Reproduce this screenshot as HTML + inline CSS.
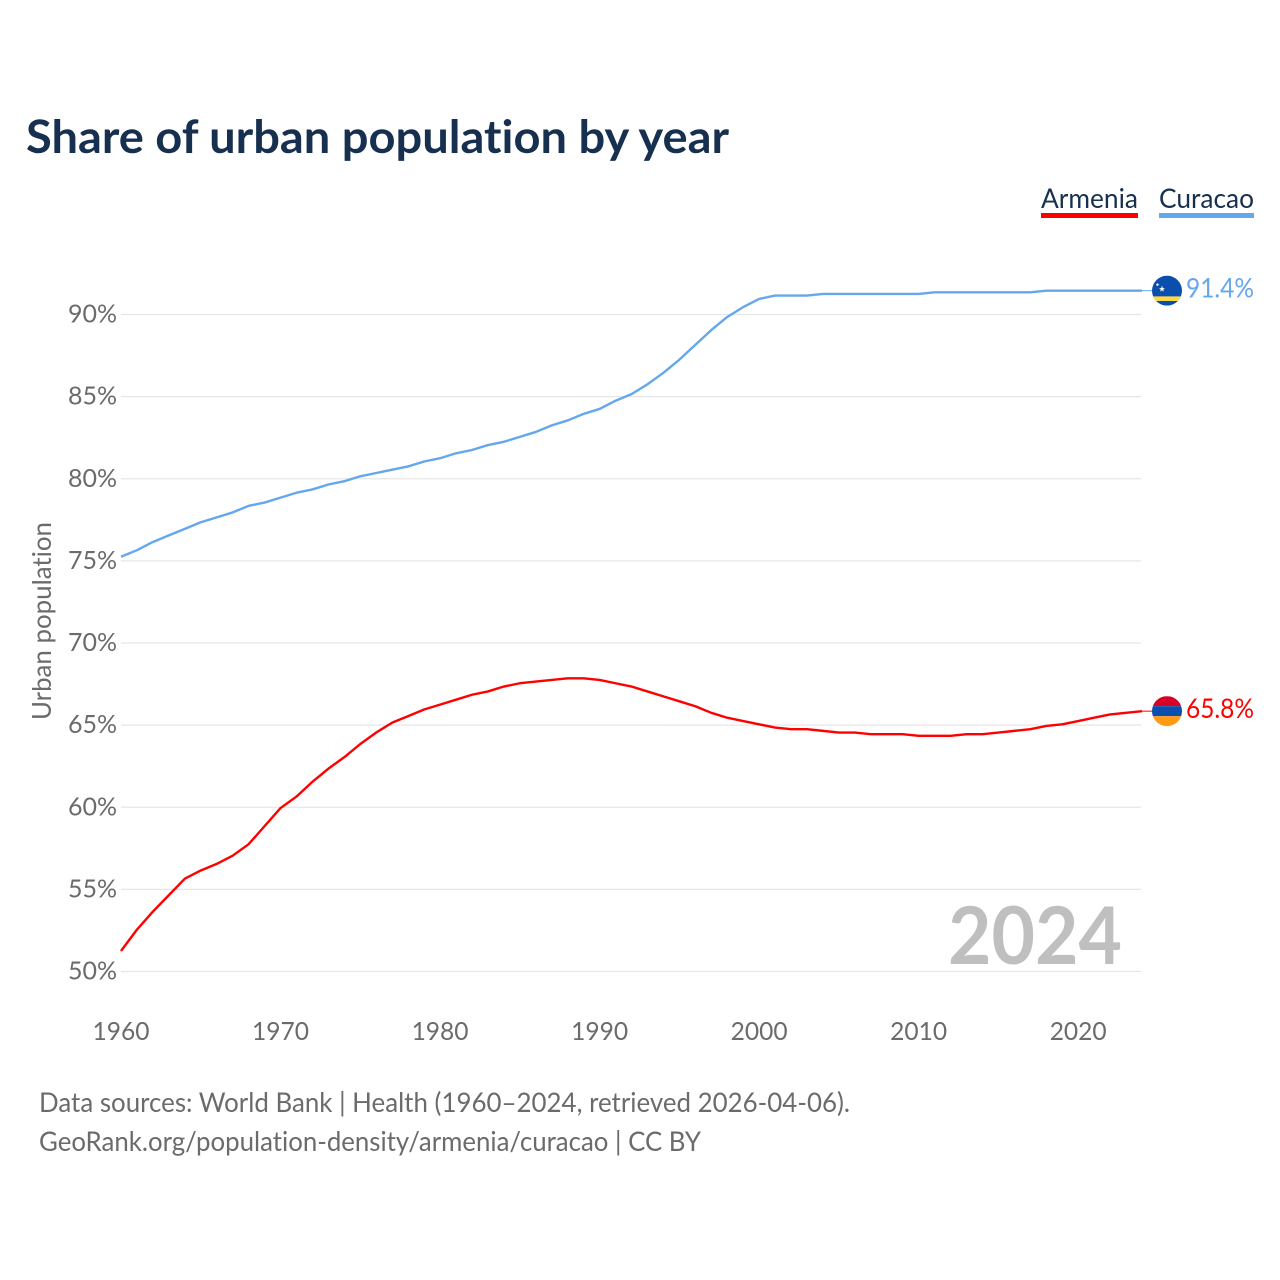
<!DOCTYPE html>
<html lang="en">
<head>
<meta charset="utf-8">
<title>Share of urban population by year</title>
<style>
html,body{margin:0;padding:0;background:#fff;width:1280px;height:1280px;overflow:hidden}
svg{display:block}
text{font-family:"Lato","Carlito","Liberation Sans",sans-serif;font-variant-ligatures:none}
</style>
</head>
<body>
<svg id="chart" xmlns="http://www.w3.org/2000/svg" width="1280" height="1280" viewBox="0 0 1280 1280">
  <rect x="0" y="0" width="1280" height="1280" fill="#fff"/>
  <text x="26" y="153" font-size="46" font-weight="700" fill="#17304f" textLength="703" lengthAdjust="spacingAndGlyphs">Share of urban population by year</text>

  <g>
    <text x="1041" y="208" font-size="27" fill="#17304f" textLength="97" lengthAdjust="spacingAndGlyphs">Armenia</text>
    <rect x="1041" y="213" width="97" height="5" fill="#ff0000"/>
  </g>
  <g>
    <text x="1159" y="208" font-size="27" fill="#17304f" textLength="95" lengthAdjust="spacingAndGlyphs">Curacao</text>
    <rect x="1159" y="213" width="95" height="5" fill="#64a7ec"/>
  </g>

  <text transform="translate(51,720) rotate(-90)" x="0" y="0" font-size="26" fill="#6b6b6b" textLength="198" lengthAdjust="spacingAndGlyphs">Urban population</text>

  <g id="grid"></g>
  <g id="yticks"></g>
  <g id="xticks"></g>

  <text x="948" y="964" font-size="80" font-weight="700" fill="#bfbfbf" textLength="174" lengthAdjust="spacingAndGlyphs">2024</text>

  <g id="series"></g>

  <defs>
    <clipPath id="clip-curacao"><circle cx="1167" cy="0" r="15"/></clipPath>
    <clipPath id="clip-armenia"><circle cx="1167" cy="0" r="15"/></clipPath>
  </defs>

  <g id="flag-curacao">
    <g clip-path="url(#clip-curacao)">
      <rect x="1152" y="-15" width="30" height="30" fill="#0a4fae"/>
      <rect x="1152" y="5.7" width="30" height="4.6" fill="#fdd94a"/>
      <polygon points="1162,-5 1162.8,-2.6 1165,-2.6 1163.2,-1.2 1163.9,1 1162,-0.4 1160.1,1 1160.8,-1.2 1159,-2.6 1161.2,-2.6" fill="#fff"/>
      <circle cx="1157.5" cy="-6" r="1.2" fill="#fff"/>
    </g>
  </g>
  <g id="flag-armenia">
    <g clip-path="url(#clip-armenia)">
      <rect x="1152" y="-15" width="30" height="10" fill="#d90026"/>
      <rect x="1152" y="-5" width="30" height="10" fill="#0a4fae"/>
      <rect x="1152" y="5" width="30" height="10" fill="#ff9a14"/>
    </g>
  </g>

  <g id="endlabels"></g>

  <text x="39" y="1112" font-size="27" fill="#6b6b6b" textLength="811" lengthAdjust="spacingAndGlyphs">Data sources: World Bank | Health (1960–2024, retrieved 2026-04-06).</text>
  <text x="39" y="1151" font-size="27" fill="#6b6b6b" textLength="662" lengthAdjust="spacingAndGlyphs">GeoRank.org/population-density/armenia/curacao | CC BY</text>
</svg>

<script>
const years = [1960,1961,1962,1963,1964,1965,1966,1967,1968,1969,1970,1971,1972,1973,1974,1975,1976,1977,1978,1979,1980,1981,1982,1983,1984,1985,1986,1987,1988,1989,1990,1991,1992,1993,1994,1995,1996,1997,1998,1999,2000,2001,2002,2003,2004,2005,2006,2007,2008,2009,2010,2011,2012,2013,2014,2015,2016,2017,2018,2019,2020,2021,2022,2023,2024];
const armeniaValues = [51.25,52.55,53.65,54.65,55.65,56.15,56.55,57.05,57.75,58.85,59.95,60.65,61.55,62.35,63.05,63.85,64.55,65.15,65.55,65.95,66.25,66.55,66.85,67.05,67.35,67.55,67.65,67.75,67.85,67.85,67.75,67.55,67.35,67.05,66.75,66.45,66.15,65.75,65.45,65.25,65.05,64.85,64.75,64.75,64.65,64.55,64.55,64.45,64.45,64.45,64.35,64.35,64.35,64.45,64.45,64.55,64.65,64.75,64.95,65.05,65.25,65.45,65.65,65.75,65.85];
const curacaoValues = [75.25,75.65,76.15,76.55,76.95,77.35,77.65,77.95,78.35,78.55,78.85,79.15,79.35,79.65,79.85,80.15,80.35,80.55,80.75,81.05,81.25,81.55,81.75,82.05,82.25,82.55,82.85,83.25,83.55,83.95,84.25,84.75,85.15,85.75,86.45,87.25,88.15,89.05,89.85,90.45,90.95,91.15,91.15,91.15,91.25,91.25,91.25,91.25,91.25,91.25,91.25,91.35,91.35,91.35,91.35,91.35,91.35,91.35,91.45,91.45,91.45,91.45,91.45,91.45,91.45];
const yTickValues = [50,55,60,65,70,75,80,85,90];
const xTickValues = [1960,1970,1980,1990,2000,2010,2020];

const NS = 'http://www.w3.org/2000/svg';
const X0 = 121, X1 = 1142, Y50 = 971.5, Y90 = 314.5;
function xScale(year){ return X0 + (year - 1960) * (X1 - X0) / 64; }
function yScale(pct){ return Y50 - (pct - 50) * (Y50 - Y90) / 40; }
function make(tag, attrs, parent, txt){
  const el = document.createElementNS(NS, tag);
  for (const k in attrs) el.setAttribute(k, attrs[k]);
  if (txt !== undefined) el.textContent = txt;
  parent.appendChild(el);
  return el;
}

const grid = document.getElementById('grid');
const yticks = document.getElementById('yticks');
const xticks = document.getElementById('xticks');
const series = document.getElementById('series');
const endlabels = document.getElementById('endlabels');

yTickValues.forEach(function(v){
  const y = yScale(v);
  const line = make('line', {x1:X0, x2:X1 - 1, y1:y, y2:y, stroke:'#e6e6e6', 'stroke-width':1.2}, grid);
  
  
  const t = make('text', {x:117, y:y + 8, 'text-anchor':'end', 'font-size':25, fill:'#6b6b6b'}, yticks, v + '%');
  
  
});

xTickValues.forEach(function(v){
  const t = make('text', {x:xScale(v) - 28.5, y:1040, 'font-size':25, fill:'#6b6b6b', textLength:57, lengthAdjust:'spacingAndGlyphs'}, xticks, String(v));
  
  
});

function drawSeries(name, values, color, printed, flagId){
  const pts = values.map(function(v, i){ return xScale(years[i]).toFixed(2) + ',' + yScale(v).toFixed(2); }).join(' ');
  const line = make('polyline', {points:pts, fill:'none', stroke:color, 'stroke-width':2.4, 'stroke-linejoin':'round'}, series);
  
  
  const lastY = yScale(values[values.length - 1]);
  const leader = make('line', {x1:X1, x2:1152, y1:lastY, y2:lastY, stroke:color, 'stroke-width':1}, series);
  
  
  document.getElementById(flagId).setAttribute('transform', 'translate(0,' + lastY + ')');
  const t = make('text', {x:1186, y:lastY + 6.8, 'font-size':27, fill:color, textLength:68, lengthAdjust:'spacingAndGlyphs'}, endlabels, printed);
  
  
}

drawSeries('curacao', curacaoValues, '#64a7ec', '91.4%', 'flag-curacao');
drawSeries('armenia', armeniaValues, '#ff0000', '65.8%', 'flag-armenia');
</script>
</body>
</html>
